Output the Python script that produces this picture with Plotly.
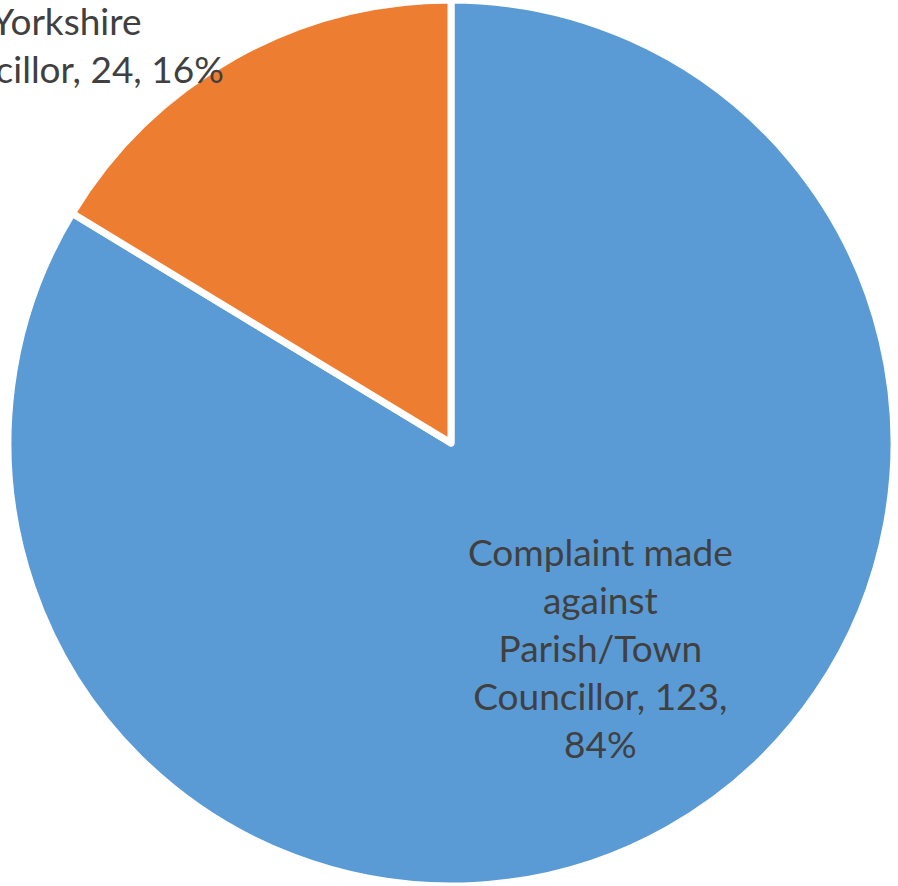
import textwrap
import plotly.graph_objects as go

# Complaints by type of councillor
categories = [
    "Complaint made against Parish/Town Councillor",
    "Complaint made against North Yorkshire Councillor",
]
counts = [123, 24]
colors = ["#5B9BD5", "#ED7D31"]

W, H = 898, 886
cx, cy, r = 451, 443, 443  # pie centre / radius in pixels

fig = go.Figure(
    go.Pie(
        labels=categories,
        values=counts,
        sort=False,
        direction="clockwise",
        rotation=0,
        textinfo="none",
        hoverinfo="label+value+percent",
        marker=dict(colors=colors, line=dict(color="white", width=7)),
        domain=dict(x=[(cx - r) / W, (cx + r) / W], y=[0, 1]),
        showlegend=False,
    )
)

total = sum(counts)
wrap_widths = [16, 19]
# label anchor points (pixels from top-left)
label_pos = [(600, 647), (66, -4)]
for cat, n, ww, (px, py) in zip(categories, counts, wrap_widths, label_pos):
    pct = round(100 * n / total)
    text = "<br>".join(textwrap.wrap(f"{cat}, {n}, {pct}%", ww))
    fig.add_annotation(
        text=text,
        x=px / W,
        y=1 - py / H,
        xref="paper",
        yref="paper",
        xanchor="center",
        yanchor="middle",
        align="center",
        showarrow=False,
        font=dict(family="Lato", size=37, color="#404040"),
    )

fig.update_layout(
    width=W,
    height=H,
    margin=dict(l=0, r=0, t=0, b=0),
    paper_bgcolor="white",
    plot_bgcolor="white",
)

fig.write_html("out.html")
